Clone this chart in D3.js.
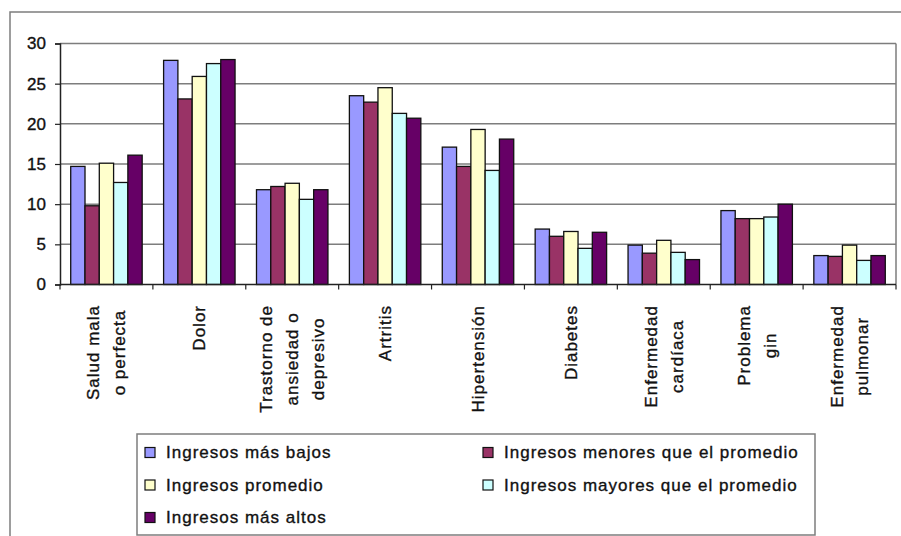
<!DOCTYPE html>
<html>
<head>
<meta charset="utf-8">
<script src="https://cdn.jsdelivr.net/npm/d3@7"></script>
<style>
  body { margin: 0; background: #fff; }
  text { font-family: "Liberation Sans", Arial, sans-serif; fill: #111; stroke: #111; stroke-width: 0.35px; }
</style>
</head>
<body>
<div id="chart"></div>
<script>
// categories, with the line breaks used under the axis
const categories = ["Salud mala o perfecta", "Dolor", "Trastorno de ansiedad o depresivo",
  "Artritis", "Hipertensión", "Diabetes", "Enfermedad cardíaca", "Problema gin", "Enfermedad pulmonar"];
const categoryLines = [["Salud mala", "o perfecta"], ["Dolor"], ["Trastorno de", "ansiedad o", "depresivo"],
  ["Artritis"], ["Hipertensión"], ["Diabetes"], ["Enfermedad", "cardíaca"], ["Problema", "gin"],
  ["Enfermedad", "pulmonar"]];

const seriesNames = ["Ingresos más bajos", "Ingresos menores que el promedio", "Ingresos promedio",
  "Ingresos mayores que el promedio", "Ingresos más altos"];
const seriesColors = ["#9999ff", "#993366", "#ffffcc", "#ccffff", "#660066"];

const masBajos = [14.7, 27.9, 11.8, 23.5, 17.1, 6.9, 4.9, 9.2, 3.6];
const menores  = [9.8, 23.1, 12.2, 22.7, 14.7, 6.0, 3.9, 8.2, 3.5];
const promedio = [15.1, 25.9, 12.6, 24.5, 19.3, 6.6, 5.5, 8.2, 4.9];
const mayores  = [12.7, 27.5, 10.6, 21.3, 14.2, 4.5, 4.0, 8.4, 3.0];
const masAltos = [16.1, 28.0, 11.8, 20.7, 18.1, 6.5, 3.1, 10.0, 3.6];
const seriesValues = [masBajos, menores, promedio, mayores, masAltos];

const yTicks = [0, 5, 10, 15, 20, 25, 30];

let cfg = {
  width: 901,
  height: 536,
  plot: { left: 60, right: 896, top: 43.5, bottom: 284.5 },
  gap: 1.5 / 6.5,
  gridColor: "#7d7d7d",
  fontSize: 17
};

let svg = d3.select("#chart").append("svg")
  .attr("width", cfg.width)
  .attr("height", cfg.height);

// outer chart border
svg.append("rect")
  .attr("x", 10).attr("y", 12)
  .attr("width", 900).attr("height", 540)
  .attr("fill", "none")
  .attr("stroke", cfg.gridColor)
  .attr("stroke-width", 1.5);

let x0 = d3.scaleBand()
  .domain(categories)
  .range([cfg.plot.left, cfg.plot.right])
  .paddingInner(cfg.gap)
  .paddingOuter(cfg.gap / 2);

let x1 = d3.scaleBand()
  .domain(d3.range(seriesNames.length))
  .range([0, x0.bandwidth()]);

let y = d3.scaleLinear()
  .domain([0, 30])
  .range([cfg.plot.bottom, cfg.plot.top]);

// gridlines
svg.append("g").selectAll("line")
  .data(yTicks.slice(1))
  .enter()
  .append("line")
  .attr("x1", cfg.plot.left)
  .attr("x2", cfg.plot.right)
  .attr("y1", d => y(d))
  .attr("y2", d => y(d))
  .attr("stroke", cfg.gridColor)
  .attr("stroke-width", 1.5);

// right edge of plot area
svg.append("line")
  .attr("x1", cfg.plot.right).attr("x2", cfg.plot.right)
  .attr("y1", cfg.plot.top).attr("y2", cfg.plot.bottom)
  .attr("stroke", cfg.gridColor)
  .attr("stroke-width", 1.5);

// bars
let groups = svg.append("g").selectAll("g")
  .data(categories)
  .enter()
  .append("g")
  .attr("transform", d => `translate(${x0(d)},0)`);

groups.selectAll("rect")
  .data((d, i) => seriesValues.map((vals, s) => ({ s: s, v: vals[i] })))
  .enter()
  .append("rect")
  .attr("x", d => x1(d.s))
  .attr("y", d => y(d.v))
  .attr("width", x1.bandwidth())
  .attr("height", d => y(0) - y(d.v))
  .attr("fill", d => seriesColors[d.s])
  .attr("stroke", "#111")
  .attr("stroke-width", 1.3);

// y axis
let yAxis = svg.append("g")
  .attr("transform", `translate(${cfg.plot.left},0)`)
  .call(d3.axisLeft(y).tickValues(yTicks).tickSize(5).tickPadding(9));
yAxis.select(".domain").attr("stroke", "#222").attr("stroke-width", 1.5);
yAxis.selectAll(".tick line").attr("stroke", "#222").attr("stroke-width", 1.2);
yAxis.selectAll("text")
  .attr("font-size", cfg.fontSize)
  .attr("font-family", "Liberation Sans, Arial, sans-serif")
  .attr("fill", "#111");

// x axis line and boundary ticks
let step = x0.step();
let boundaries = d3.range(categories.length + 1).map(i => cfg.plot.left + i * step);
svg.append("line")
  .attr("x1", cfg.plot.left).attr("x2", cfg.plot.right)
  .attr("y1", y(0)).attr("y2", y(0))
  .attr("stroke", "#222")
  .attr("stroke-width", 1.5);
svg.append("g").selectAll("line")
  .data(boundaries)
  .enter()
  .append("line")
  .attr("x1", d => d).attr("x2", d => d)
  .attr("y1", y(0)).attr("y2", y(0) + 5)
  .attr("stroke", "#222")
  .attr("stroke-width", 1.2);

// rotated category labels
let labelTop = 305;
let lineGap = 26;
let labels = svg.append("g").selectAll("g")
  .data(categories)
  .enter()
  .append("g")
  .attr("transform", d => `translate(${x0(d) + x0.bandwidth() / 2},${labelTop}) rotate(-90)`);

labels.each(function(d, i) {
  let g = d3.select(this);
  let lines = categoryLines[i];
  let texts = g.selectAll("text")
    .data(lines)
    .enter()
    .append("text")
    .attr("font-size", cfg.fontSize)
    .attr("letter-spacing", 1)
    .attr("text-anchor", "middle")
    .attr("dy", "0.35em")
    .attr("y", (t, k) => (k - (lines.length - 1) / 2) * lineGap)
    .text(t => t);
  let maxLen = d3.max(texts.nodes(), n => n.getComputedTextLength());
  texts.attr("x", -maxLen / 2);
});

// legend
let legend = { left: 137, top: 434, right: 815, bottom: 535, rowGap: 32.5 };
svg.append("rect")
  .attr("x", legend.left).attr("y", legend.top)
  .attr("width", legend.right - legend.left)
  .attr("height", legend.bottom - legend.top)
  .attr("fill", "#fff")
  .attr("stroke", cfg.gridColor)
  .attr("stroke-width", 1.5);

let legendCols = [145, 483];
let legendItems = svg.append("g").selectAll("g")
  .data(seriesNames)
  .enter()
  .append("g")
  .attr("transform", (d, i) => `translate(${legendCols[i % 2]},${452.5 + Math.floor(i / 2) * legend.rowGap})`);

legendItems.append("rect")
  .attr("x", 0).attr("y", -5)
  .attr("width", 10).attr("height", 10)
  .attr("fill", (d, i) => seriesColors[i])
  .attr("stroke", "#111")
  .attr("stroke-width", 1.2);

legendItems.append("text")
  .attr("x", 21)
  .attr("dy", "0.35em")
  .attr("font-size", cfg.fontSize)
  .attr("letter-spacing", 1)
  .text(d => d);
</script>
</body>
</html>
